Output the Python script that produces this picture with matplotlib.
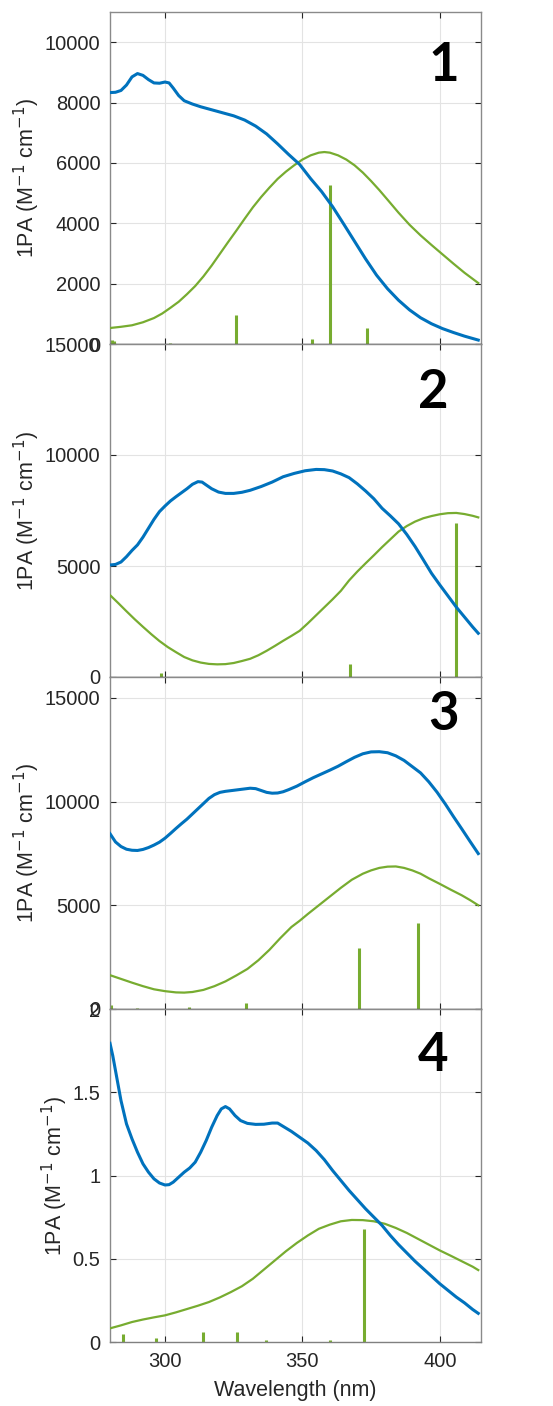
import matplotlib.pyplot as plt
import numpy as np

plt.rcParams['font.family'] = ['Liberation Sans', 'DejaVu Sans']

blue = '#0072BD'
green = '#77AC30'

# panel 1
wl1_b = [280, 282, 284, 286, 288, 290, 292, 294, 296, 298, 300, 301.5, 303, 305, 307, 310, 313, 317, 321, 325, 329, 333, 337, 341, 345, 349, 353, 357, 361, 365, 369, 373, 377, 381, 385, 389, 393, 397, 401, 405, 409, 414]
ab1_b = [8330, 8340, 8400, 8580, 8850, 8960, 8900, 8760, 8650, 8640, 8680, 8650, 8480, 8230, 8060, 7950, 7860, 7760, 7660, 7560, 7420, 7220, 6960, 6630, 6280, 5950, 5480, 5050, 4550, 3980, 3400, 2820, 2280, 1830, 1450, 1130, 870, 670, 510, 380, 260, 130]
wl1_g = [280, 284, 288, 292, 296, 299, 302, 305, 308, 311, 314, 317, 320, 323, 326, 329, 332, 335, 338, 341, 344, 347, 350, 353, 356, 358, 360, 363, 366, 369, 372, 375, 378, 381, 385, 389, 393, 397, 401, 405, 409, 414]
ab1_g = [530, 570, 620, 720, 860, 1010, 1200, 1400, 1650, 1920, 2240, 2600, 2990, 3380, 3760, 4150, 4530, 4870, 5180, 5470, 5710, 5920, 6110, 6250, 6340, 6360, 6340, 6250, 6110, 5920, 5680, 5400, 5100, 4780, 4350, 3950, 3600, 3280, 2970, 2660, 2360, 2020]
st1_x = [280.6, 281.5, 301.7, 325.8, 353.6, 360.0, 373.6]
st1_h = [130, 90, 30, 960, 160, 5260, 530]

# panel 2
wl2_b = [280, 282, 284, 286, 288, 290, 292, 294, 296, 298, 300, 302, 304, 306, 308, 310, 312, 313.5, 315, 317, 319.5, 322, 325, 328, 331, 335, 339, 343, 347, 351, 355, 358, 361, 364, 367, 370, 373, 376, 379, 382, 385, 388, 391, 394, 397, 400, 403, 406, 409, 412, 414]
ab2_b = [5045, 5070, 5180, 5420, 5700, 5950, 6300, 6700, 7100, 7450, 7700, 7930, 8120, 8300, 8480, 8680, 8800, 8780, 8650, 8480, 8330, 8270, 8270, 8320, 8410, 8580, 8780, 9020, 9170, 9290, 9350, 9340, 9280, 9150, 8980, 8700, 8380, 8030, 7600, 7260, 6900, 6420, 5880, 5280, 4670, 4150, 3650, 3150, 2700, 2250, 1970]
wl2_g = [280, 283, 286, 289, 292, 295, 298, 301, 304, 307, 310, 313, 316, 319, 322, 325, 328, 331, 334, 337, 340, 343, 346, 349, 352, 355, 358, 361, 364, 367, 370, 373, 376, 379, 382, 385, 388, 391, 394, 397, 400, 403, 406, 409, 412, 414]
ab2_g = [3690, 3330, 2960, 2600, 2260, 1930, 1620, 1350, 1120, 900, 750, 650, 590, 570, 580, 630, 720, 820, 980, 1180, 1400, 1630, 1850, 2080, 2420, 2780, 3140, 3500, 3880, 4350, 4750, 5120, 5480, 5850, 6200, 6550, 6800, 7000, 7150, 7250, 7330, 7380, 7390, 7340, 7260, 7190]
st2_x = [298.4, 331.9, 367.4, 406.0]
st2_h = [190, 20, 570, 6920]

# panel 3
wl3_b = [280, 282, 284, 286, 288, 290, 292, 294, 296, 298, 300, 302, 304, 306, 308, 310, 312, 314, 316, 318, 320, 322, 325, 328, 331, 333, 335, 337, 339, 341, 343, 345, 348, 351, 354, 357, 360, 363, 366, 369, 372, 375, 378, 381, 384, 387, 390, 393, 396, 399, 402, 405, 408, 411, 414]
ab3_b = [8450, 8050, 7830, 7700, 7650, 7640, 7690, 7780, 7900, 8040, 8230, 8460, 8700, 8930, 9150, 9400, 9650, 9900, 10150, 10330, 10440, 10490, 10540, 10590, 10640, 10620, 10530, 10440, 10400, 10410, 10470, 10570, 10740, 10950, 11150, 11330, 11510, 11700, 11920, 12130, 12300, 12390, 12400, 12350, 12200, 11980, 11680, 11380, 10950, 10450, 9880, 9270, 8680, 8080, 7490]
wl3_g = [280, 284, 288, 292, 296, 300, 304, 307, 310, 314, 318, 322, 326, 330, 334, 338, 342, 346, 349, 352, 356, 360, 364, 368, 372, 375, 378, 381, 384, 387, 390, 393, 396, 400, 404, 408, 411, 414]
ab3_g = [1630, 1450, 1270, 1100, 950, 860, 800, 790, 820, 920, 1100, 1330, 1620, 1930, 2350, 2850, 3420, 3950, 4250, 4580, 5000, 5420, 5840, 6230, 6520, 6680, 6800, 6860, 6870, 6800, 6680, 6520, 6300, 6030, 5750, 5480, 5250, 5000]
st3_x = [280.5, 290.0, 308.6, 329.5, 352.0, 370.5, 392.0]
st3_h = [190, 60, 100, 270, 20, 2950, 4150]

# panel 4
wl4_b = [280, 281, 282, 283, 284, 285, 286, 288, 290, 292, 294, 296, 298, 300, 301.5, 303, 305, 307, 309, 311, 313, 315, 317, 319, 320.5, 322, 323.5, 325.5, 327.5, 330, 333, 336, 339, 341, 343, 346, 349, 352, 355, 358, 361, 364, 367, 370, 373, 376, 379, 382, 385, 388, 391, 394, 397, 400, 403, 406, 409, 412, 414]
ab4_b = [1.794, 1.72, 1.63, 1.54, 1.45, 1.38, 1.31, 1.22, 1.14, 1.07, 1.02, 0.98, 0.955, 0.943, 0.945, 0.96, 0.99, 1.02, 1.045, 1.08, 1.14, 1.21, 1.29, 1.36, 1.40, 1.414, 1.40, 1.36, 1.33, 1.313, 1.307, 1.308, 1.315, 1.315, 1.295, 1.265, 1.23, 1.195, 1.15, 1.095, 1.03, 0.97, 0.91, 0.855, 0.80, 0.75, 0.70, 0.64, 0.585, 0.535, 0.485, 0.44, 0.395, 0.35, 0.31, 0.27, 0.235, 0.195, 0.172]
wl4_g = [280, 284, 288, 292, 296, 300, 304, 308, 312, 316, 320, 324, 328, 332, 336, 340, 344, 348, 352, 356, 360, 364, 368, 372, 376, 380, 384, 388, 392, 396, 400, 404, 408, 412, 414]
ab4_g = [0.082, 0.10, 0.12, 0.135, 0.148, 0.16, 0.178, 0.198, 0.218, 0.24, 0.268, 0.30, 0.335, 0.38, 0.435, 0.49, 0.545, 0.595, 0.64, 0.68, 0.705, 0.725, 0.733, 0.732, 0.725, 0.71, 0.685, 0.655, 0.62, 0.585, 0.55, 0.518, 0.485, 0.452, 0.432]
st4_x = [284.7, 296.9, 313.8, 326.3, 336.8, 360.0, 372.4]
st4_h = [0.046, 0.022, 0.062, 0.062, 0.01, 0.012, 0.68]

panels = [
    (wl1_b, ab1_b, wl1_g, ab1_g, st1_x, st1_h, (0, 11000), [0, 2000, 4000, 6000, 8000, 10000], ['0', '2000', '4000', '6000', '8000', '10000'], '1', (0.90, 0.84)),
    (wl2_b, ab2_b, wl2_g, ab2_g, st2_x, st2_h, (0, 15000), [0, 5000, 10000, 15000], ['0', '5000', '10000', '15000'], '2', (0.87, 0.855)),
    (wl3_b, ab3_b, wl3_g, ab3_g, st3_x, st3_h, (0, 16000), [0, 5000, 10000, 15000], ['0', '5000', '10000', '15000'], '3', (0.90, 0.886)),
    (wl4_b, ab4_b, wl4_g, ab4_g, st4_x, st4_h, (0, 2), [0, 0.5, 1, 1.5, 2], ['0', '0.5', '1', '1.5', '2'], '4', (0.87, 0.86)),
]

W, H = 553, 1406
fig = plt.figure(figsize=(W / 100, H / 100), dpi=100)
edges = [12, 344, 677, 1009, 1342]
left, right = 110, 481

for i, (xb, yb, xg, yg, sx, sh, ylim, yt, ytl, num, numpos) in enumerate(panels):
    top, bot = edges[i], edges[i + 1]
    ax = fig.add_axes([left / W, 1 - bot / H, (right - left) / W, (bot - top) / H])
    ax.vlines(sx, 0, sh, color=green, lw=2.2, zorder=2)
    ax.plot(xg, yg, color=green, lw=1.6, zorder=3)
    ax.plot(xb, yb, color=blue, lw=2.2, zorder=4)
    ax.set_xlim(280, 415)
    ax.set_ylim(*ylim)
    ax.set_xticks([300, 350, 400])
    ax.set_yticks(yt)
    ax.set_yticklabels(ytl)
    ax.grid(True, color='#e3e3e3', lw=0.8, zorder=0)
    ax.set_axisbelow(True)
    ax.tick_params(direction='in', top=True, right=True, length=4, labelsize=14.5,
                   colors='#262626', width=0.8, pad=7)
    for s in ['left', 'right', 'top']:
        ax.spines[s].set_color('#8a8a8a')
    ax.spines['bottom'].set_color('#3a3a3a' if i < 3 else '#808080')
    for s in ax.spines.values():
        s.set_linewidth(1.0)
    if i < 3:
        ax.tick_params(labelbottom=False)
    else:
        ax.set_xlabel('Wavelength (nm)', fontsize=15.5, color='#262626', labelpad=7)
    ax.set_ylabel('1PA (M$^{-1}$ cm$^{-1}$)', fontsize=15.5, color='#262626', labelpad=2)
    ax.text(numpos[0], numpos[1], num, transform=ax.transAxes, ha='center', va='center',
            fontsize=38, fontweight='bold', family='Lato', color='black')

fig.savefig('out.png', dpi=100)
